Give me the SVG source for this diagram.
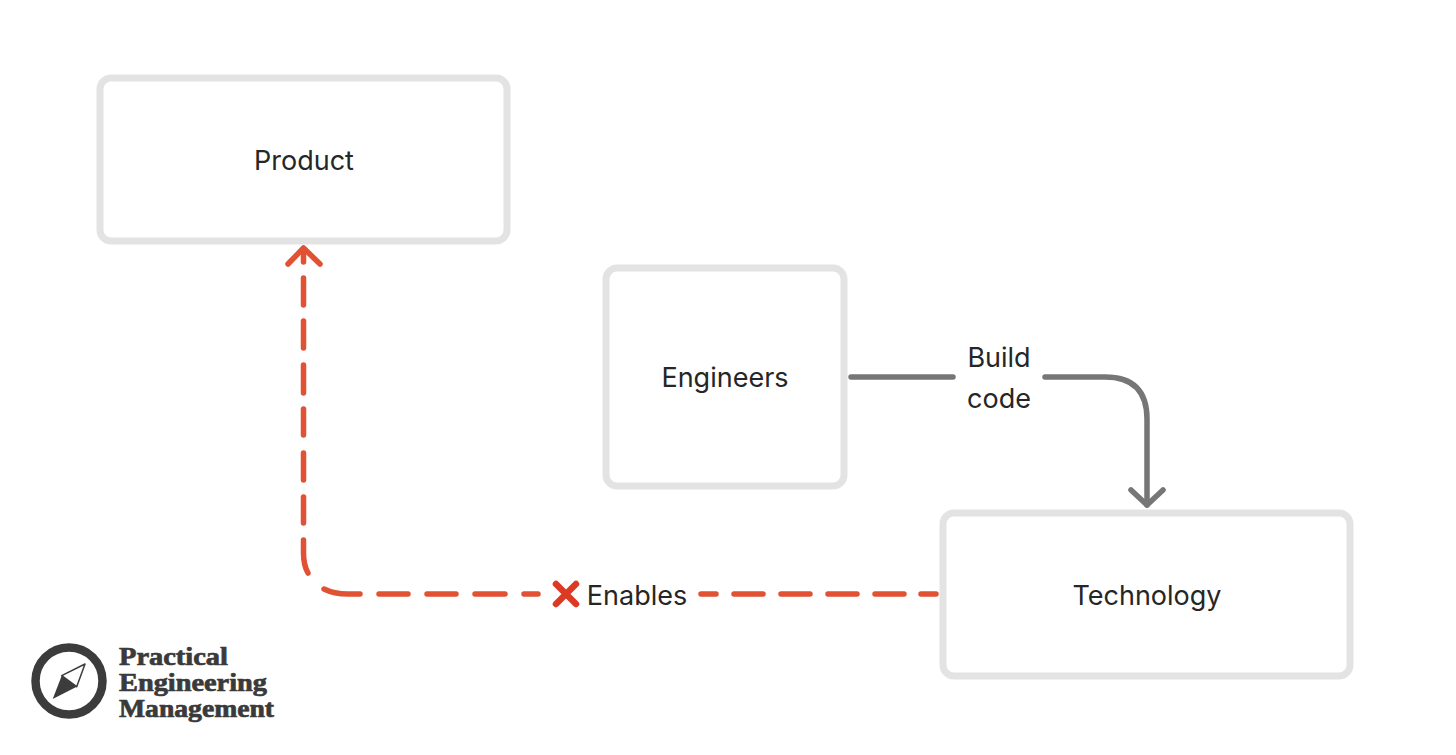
<svg xmlns="http://www.w3.org/2000/svg" width="1456" height="755" viewBox="0 0 1456 755">
<style>
.box{fill:#fff;stroke:#e3e3e3;stroke-width:7}
.t{font-family:Inter,"Liberation Sans",sans-serif;font-size:27px;fill:#262626;text-anchor:middle}
.red{fill:none;stroke:#e05233;stroke-width:5.5;stroke-linecap:round;stroke-linejoin:round}
.gray{fill:none;stroke:#767676;stroke-width:5.5;stroke-linecap:round;stroke-linejoin:round}
.logo{font-family:"Liberation Serif",serif;font-weight:700;font-size:25px;fill:#3a3a3a;stroke:#3a3a3a;stroke-width:.7}
</style>
<rect width="1456" height="755" fill="#fff"/>
<g id="connectors">
<path class="red" d="M303.5 249V262M303.5 278V305M303.5 321V348M303.5 365V393M303.5 409V435M303.5 453V480M303.5 497V523M303.5 540V553Q303.5 565 308 573M324 589Q334 594 348 594H360M379 594H408M427 594H456M475 594H505M524 594H538M701 594H716M734 594H763M781 594H810M828 594H857M875 594H904M921 594H936"/>
<path class="red" d="M288 264L303.5 248L320 264"/>
<path class="gray" d="M851 377H953M1045 377H1105Q1147 377 1147 419V505"/>
<path class="gray" d="M1131 490L1147 505L1163 490"/>
</g>
<g id="product"><rect class="box" x="100" y="78" width="407" height="163" rx="11"/><text class="t" x="304" y="170">Product</text></g>
<g id="engineers"><rect class="box" x="606" y="268" width="238" height="218" rx="11"/><text class="t" x="725" y="387">Engineers</text></g>
<g id="technology"><rect class="box" x="943" y="513" width="407" height="163" rx="11"/><text class="t" x="1147" y="605">Technology</text></g>
<g id="build-label"><text class="t" x="999" y="367">Build</text><text class="t" x="999" y="408">code</text></g>
<g id="enables-label">
<path d="M556 584L576 604M576 584L556 604" fill="none" stroke="#dd3a26" stroke-width="6.5" stroke-linecap="round"/>
<text class="t" x="637" y="605">Enables</text>
</g>
<g id="logo">
<circle cx="69" cy="681" r="33.5" fill="#fff" stroke="#3c3c3c" stroke-width="8.5"/>
<path d="M85 664L76.7 686.7L52.7 699L61.7 675.7Z" fill="#3c3c3c"/>
<path d="M85 664L76.7 686.7L61.7 675.7Z" fill="#fff" stroke="#3c3c3c" stroke-width="1.5" stroke-linejoin="round"/>
<text class="logo" x="119" y="665" textLength="109" lengthAdjust="spacingAndGlyphs">Practical</text>
<text class="logo" x="119" y="691" textLength="148" lengthAdjust="spacingAndGlyphs">Engineering</text>
<text class="logo" x="119" y="717" textLength="155" lengthAdjust="spacingAndGlyphs">Management</text>
</g>
</svg>
